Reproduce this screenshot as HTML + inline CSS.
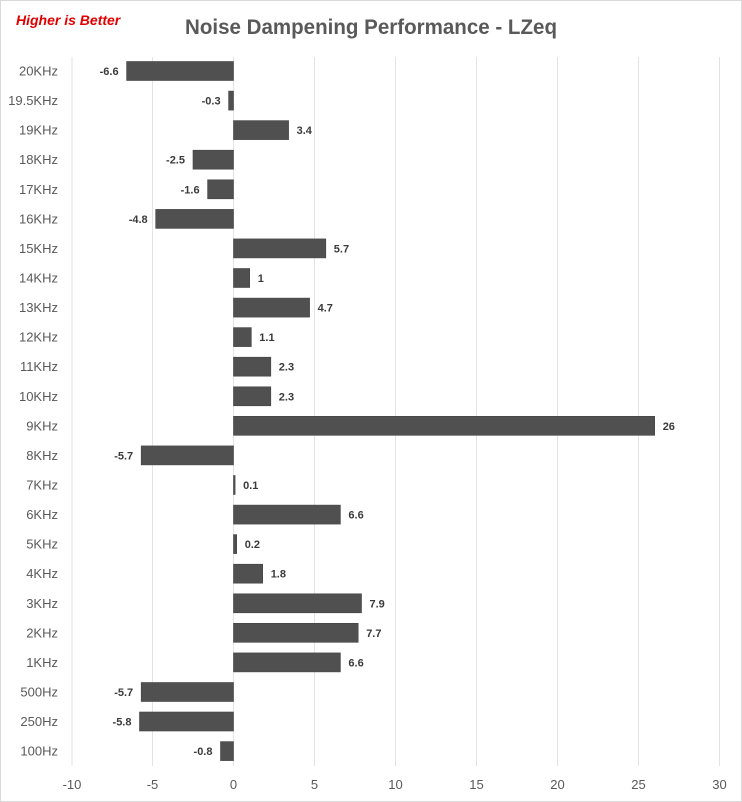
<!DOCTYPE html>
<html><head><meta charset="utf-8"><style>
html,body{margin:0;padding:0;background:#fff}
svg{display:block}
text{font-family:"Liberation Sans",sans-serif}
.c{font-size:13px;fill:#595959;text-anchor:end}
.v{font-size:11px;font-weight:bold;fill:#3a3a3a}
.n{text-anchor:end}
.t{font-size:13px;fill:#595959;text-anchor:middle}
rect.b{fill:#505050;stroke:#444;stroke-width:0.6}
</style></head><body>
<svg width="742" height="802" viewBox="0 0 742 802">
<rect x="0.5" y="0.5" width="741" height="801" fill="#fff" stroke="#d9d9d9"/>
<text x="16" y="25" style="font-size:14px;font-weight:bold;font-style:italic;fill:#e00000">Higher is Better</text>
<text x="371" y="34" textLength="372" lengthAdjust="spacingAndGlyphs" style="font-size:21px;font-weight:bold;fill:#595959;text-anchor:middle">Noise Dampening Performance - LZeq</text>
<g stroke="#e3e3e3" stroke-width="1">
<line x1="72" y1="57" x2="72" y2="766"/><line x1="152.5" y1="57" x2="152.5" y2="766"/><line x1="233.5" y1="57" x2="233.5" y2="766"/><line x1="314.5" y1="57" x2="314.5" y2="766"/><line x1="395.5" y1="57" x2="395.5" y2="766"/><line x1="476.5" y1="57" x2="476.5" y2="766"/><line x1="557.5" y1="57" x2="557.5" y2="766"/><line x1="638.5" y1="57" x2="638.5" y2="766"/><line x1="719.5" y1="57" x2="719.5" y2="766"/>
</g>
<g>
<text class="t" x="72" y="789">-10</text><text class="t" x="152.5" y="789">-5</text><text class="t" x="233.5" y="789">0</text><text class="t" x="314.5" y="789">5</text><text class="t" x="395.5" y="789">10</text><text class="t" x="476.5" y="789">15</text><text class="t" x="557.5" y="789">20</text><text class="t" x="638.5" y="789">25</text><text class="t" x="719.5" y="789">30</text>
</g>
<g>
<rect class="b" x="126.6" y="61.5" width="106.9" height="19"/>
<rect class="b" x="228.6" y="91.1" width="4.9" height="19"/>
<rect class="b" x="233.5" y="120.6" width="55.1" height="19"/>
<rect class="b" x="193" y="150.2" width="40.5" height="19"/>
<rect class="b" x="207.6" y="179.8" width="25.9" height="19"/>
<rect class="b" x="155.7" y="209.4" width="77.8" height="19"/>
<rect class="b" x="233.5" y="238.9" width="92.3" height="19"/>
<rect class="b" x="233.5" y="268.5" width="16.2" height="19"/>
<rect class="b" x="233.5" y="298.1" width="76.1" height="19"/>
<rect class="b" x="233.5" y="327.6" width="17.8" height="19"/>
<rect class="b" x="233.5" y="357.2" width="37.3" height="19"/>
<rect class="b" x="233.5" y="386.8" width="37.3" height="19"/>
<rect class="b" x="233.5" y="416.3" width="421.2" height="19"/>
<rect class="b" x="141.2" y="445.9" width="92.3" height="19"/>
<rect class="b" x="233.5" y="475.5" width="1.6" height="19"/>
<rect class="b" x="233.5" y="505.1" width="106.9" height="19"/>
<rect class="b" x="233.5" y="534.6" width="3.2" height="19"/>
<rect class="b" x="233.5" y="564.2" width="29.2" height="19"/>
<rect class="b" x="233.5" y="593.8" width="128" height="19"/>
<rect class="b" x="233.5" y="623.3" width="124.7" height="19"/>
<rect class="b" x="233.5" y="652.9" width="106.9" height="19"/>
<rect class="b" x="141.2" y="682.5" width="92.3" height="19"/>
<rect class="b" x="139.5" y="712" width="94" height="19"/>
<rect class="b" x="220.5" y="741.6" width="13" height="19"/>
</g>
<g>
<text class="c" x="58" y="75.5">20KHz</text>
<text class="c" x="58" y="105.1">19.5KHz</text>
<text class="c" x="58" y="134.6">19KHz</text>
<text class="c" x="58" y="164.2">18KHz</text>
<text class="c" x="58" y="193.8">17KHz</text>
<text class="c" x="58" y="223.4">16KHz</text>
<text class="c" x="58" y="252.9">15KHz</text>
<text class="c" x="58" y="282.5">14KHz</text>
<text class="c" x="58" y="312.1">13KHz</text>
<text class="c" x="58" y="341.6">12KHz</text>
<text class="c" x="58" y="371.2">11KHz</text>
<text class="c" x="58" y="400.8">10KHz</text>
<text class="c" x="58" y="430.3">9KHz</text>
<text class="c" x="58" y="459.9">8KHz</text>
<text class="c" x="58" y="489.5">7KHz</text>
<text class="c" x="58" y="519.1">6KHz</text>
<text class="c" x="58" y="548.6">5KHz</text>
<text class="c" x="58" y="578.2">4KHz</text>
<text class="c" x="58" y="607.8">3KHz</text>
<text class="c" x="58" y="637.3">2KHz</text>
<text class="c" x="58" y="666.9">1KHz</text>
<text class="c" x="58" y="696.5">500Hz</text>
<text class="c" x="58" y="726">250Hz</text>
<text class="c" x="58" y="755.6">100Hz</text>
</g>
<g>
<text class="v n" x="118.6" y="75">-6.6</text>
<text class="v n" x="220.6" y="104.6">-0.3</text>
<text class="v" x="296.6" y="134.1">3.4</text>
<text class="v n" x="185" y="163.7">-2.5</text>
<text class="v n" x="199.6" y="193.3">-1.6</text>
<text class="v n" x="147.7" y="222.9">-4.8</text>
<text class="v" x="333.8" y="252.4">5.7</text>
<text class="v" x="257.7" y="282">1</text>
<text class="v" x="317.6" y="311.6">4.7</text>
<text class="v" x="259.3" y="341.1">1.1</text>
<text class="v" x="278.8" y="370.7">2.3</text>
<text class="v" x="278.8" y="400.3">2.3</text>
<text class="v" x="662.7" y="429.8">26</text>
<text class="v n" x="133.2" y="459.4">-5.7</text>
<text class="v" x="243.1" y="489">0.1</text>
<text class="v" x="348.4" y="518.6">6.6</text>
<text class="v" x="244.7" y="548.1">0.2</text>
<text class="v" x="270.7" y="577.7">1.8</text>
<text class="v" x="369.5" y="607.3">7.9</text>
<text class="v" x="366.2" y="636.8">7.7</text>
<text class="v" x="348.4" y="666.4">6.6</text>
<text class="v n" x="133.2" y="696">-5.7</text>
<text class="v n" x="131.5" y="725.5">-5.8</text>
<text class="v n" x="212.5" y="755.1">-0.8</text>
</g>
</svg>
</body></html>
